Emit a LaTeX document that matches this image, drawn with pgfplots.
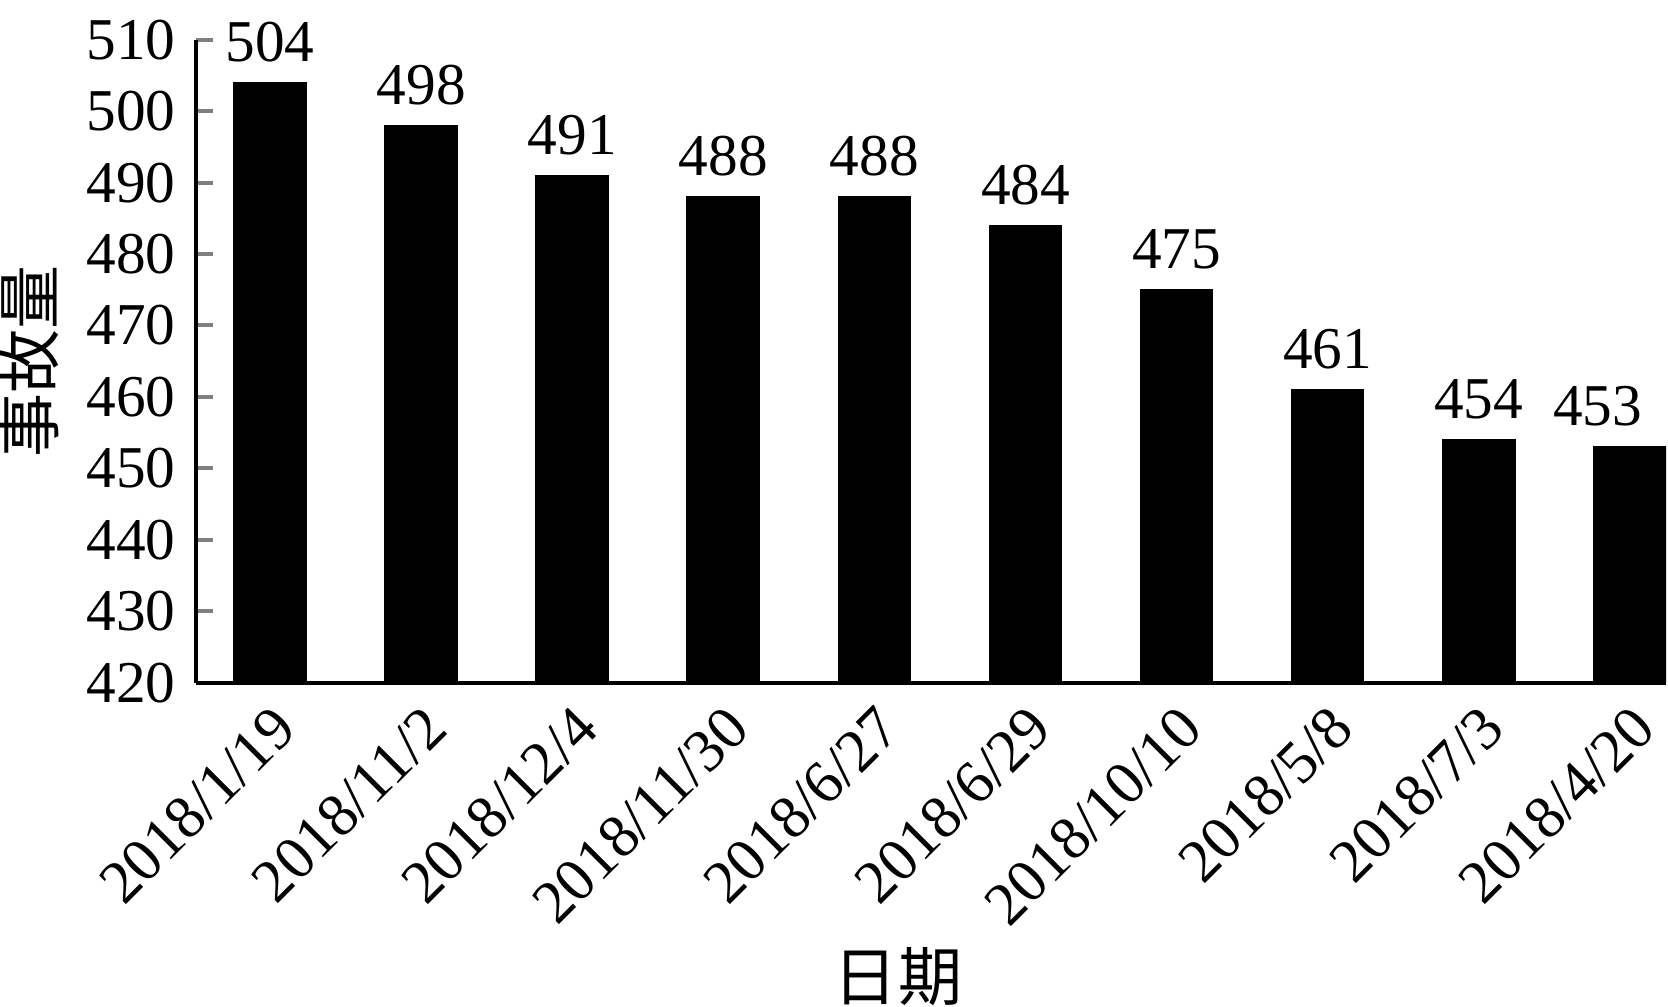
\documentclass[border=0pt]{standalone}
\usepackage{pgfplots}
\pgfplotsset{compat=1.18}
\usepackage{fontspec}
\setmainfont{Liberation Serif}
\newfontfamily\cjk{Noto Sans CJK SC}
\pgfplotstableread{
x y s
0 504 0
1 498 0
2 491 0
3 488 0
4 488 0
5 484 0
6 475 0
7 461 0
8 454 0
9 453 -8
}\datatable
\begin{document}
\fontsize{14.8pt}{17pt}\selectfont
\begin{tikzpicture}
\begin{axis}[
  scale only axis, width=367pt, height=160.5pt,
  ybar, bar width=18pt,
  xmin=-0.49, xmax=9.24, ymin=420, ymax=510,
  ytick={420,430,...,510},
  xtick=data,
  xticklabels={2018/1/19,2018/11/2,2018/12/4,2018/11/30,2018/6/27,2018/6/29,2018/10/10,2018/5/8,2018/7/3,2018/4/20},
  axis x line*=bottom, axis y line*=left,
  axis line style={-, line width=1pt},
  xtick style={draw=none},
  ytick style={line width=1pt},
  tick align=inside, major tick length=4.25pt,
  /pgf/number format/assume math mode=true,
  tick label style={font=\fontsize{14.8pt}{17pt}\selectfont},
  xticklabel style={rotate=45, anchor=north east, inner sep=1pt, font=\fontsize{15.2pt}{17pt}\selectfont},
  xticklabel shift=3.5pt,
  nodes near coords,
  visualization depends on={\thisrow{s} \as \sh},
  every node near coord/.append style={font=\fontsize{14.8pt}{17pt}\selectfont, black, xshift=\sh pt},
  ylabel={\cjk 事故量},
  xlabel={\cjk 日期},
  every axis y label/.style={at={(axis description cs:0,0.5)}, rotate=90, anchor=south, inner sep=0pt, yshift=34pt, font=\fontsize{16pt}{18pt}\selectfont},
  every axis x label/.style={at={(axis description cs:0.5,0)}, anchor=north, inner sep=0pt, yshift=-66pt, xshift=-8.25pt, font=\fontsize{16pt}{18pt}\selectfont},
]
\addplot[fill=black, draw=black] table[x=x, y=y] {\datatable};
\end{axis}
\end{tikzpicture}
\end{document}
